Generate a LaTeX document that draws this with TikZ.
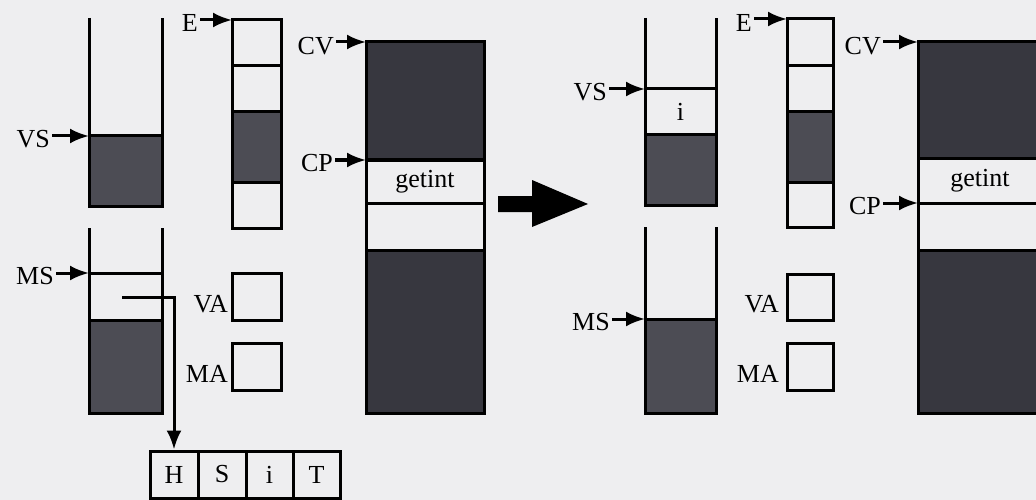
\documentclass[tikz,border=0pt]{standalone}
\usepackage{fontspec}
\setmainfont{Liberation Serif}
\usetikzlibrary{arrows.meta}
\definecolor{paper}{RGB}{238,238,240}
\definecolor{stip}{RGB}{76,76,84}
\definecolor{dstip}{RGB}{55,55,63}
\begin{document}
\begin{tikzpicture}[x=1pt,y=-1pt,
  wall/.style={line width=3pt},
  shade/.style={fill=stip},
  dshade/.style={fill=dstip},
  lbl/.style={font=\fontsize{26}{30}\selectfont, inner sep=0pt},
  ptr/.style={line width=3pt, shorten <=2pt, -{Latex[length=19pt,width=15pt]}},
  boxnode/.style={draw, line width=3pt, inner sep=0pt, font=\fontsize{26}{30}\selectfont},
]
\path[use as bounding box, fill=paper] (0,0) rectangle (1036,500);
\clip (0,0) rectangle (1036,500);

% ================= LEFT STATE =================
% VS stack
\fill[shade] (89,136) rectangle (162,206);
\draw[wall] (89,18) -- (89,206) -- (162,206) -- (162,18);
\draw[wall] (89,136) -- (162,136);
\node[lbl, anchor=east] (vsA) at (50,139) {VS};
\coordinate (vsAt) at (89,136);
\draw[ptr] (vsA.east |- vsAt) -- (vsAt);

% MS stack
\fill[shade] (89,320) rectangle (162,413);
\draw[wall] (89,228) -- (89,413) -- (162,413) -- (162,228);
\draw[wall] (89,273) -- (162,273) (89,320) -- (162,320);
\node[lbl, anchor=east] (msA) at (54,276) {MS};
\coordinate (msAt) at (89,273);
\draw[ptr] (msA.east |- msAt) -- (msAt);

% HSiT record
\node[boxnode, minimum width=48pt, minimum height=47pt] (cH) at (174,474.5) {H};
\node[boxnode, minimum width=48pt, minimum height=47pt] (cS) at (222,474.5) {S};
\node[boxnode, minimum width=47pt, minimum height=47pt] (ci) at (269.5,474.5) {i};
\node[boxnode, minimum width=47pt, minimum height=47pt] (cT) at (316.5,474.5) {T};
\coordinate (msAp) at (122,297);
\draw[line width=3pt, -{Latex[length=19pt,width=15pt]}] (msAp) -| (cH.north);

% E column
\fill[shade] (232,112) rectangle (281,182);
\draw[wall] (232,20) rectangle (281,228);
\draw[wall] (232,66) -- (281,66) (232,112) -- (281,112) (232,182) -- (281,182);
\node[lbl, anchor=east] (eA) at (198,23) {E};
\coordinate (eAt) at (232,20);
\draw[ptr] (eA.east |- eAt) -- (eAt);

% VA, MA
\node[boxnode, minimum width=49pt, minimum height=47pt] (vaA) at (256.5,296.5) {};
\node[lbl, anchor=base east] (vaAl) at (228,312) {VA};
\node[boxnode, minimum width=49pt, minimum height=47pt] (maA) at (256.5,366.5) {};
\node[lbl, anchor=base east] (maAl) at (228,382) {MA};

% code vector
\fill[dshade] (366,42) rectangle (484,160);
\fill[dshade] (366,250) rectangle (484,413);
\draw[wall] (366,42) rectangle (484,413);
\draw[wall] (366,160) -- (484,160) (366,203) -- (484,203) (366,250) -- (484,250);
\node[lbl] (gA) at (425,182) {getint};
\node[lbl, anchor=east] (cvA) at (334,46) {CV};
\coordinate (cvAt) at (366,42);
\draw[ptr] (cvA.east |- cvAt) -- (cvAt);
\node[lbl, anchor=east] (cpA) at (333,163) {CP};
\coordinate (cpAt) at (366,160);
\draw[ptr] (cpA.east |- cpAt) -- (cpAt);

% ================= TRANSITION ARROW =================
\fill[black] (498,196) -- (532,196) -- (532,180) -- (588,204) -- (532,227) -- (532,212) -- (498,212) -- cycle;

% ================= RIGHT STATE =================
% VS stack
\fill[shade] (645,135) rectangle (716,205);
\draw[wall] (645,18) -- (645,205) -- (716,205) -- (716,18);
\draw[wall] (645,89) -- (716,89) (645,135) -- (716,135);
\node[lbl] (iB) at (680.5,112) {i};
\node[lbl, anchor=east] (vsB) at (607,92) {VS};
\coordinate (vsBt) at (645,89);
\draw[ptr] (vsB.east |- vsBt) -- (vsBt);

% MS stack
\fill[shade] (645,319) rectangle (716,413);
\draw[wall] (645,227) -- (645,413) -- (716,413) -- (716,227);
\draw[wall] (645,319) -- (716,319);
\node[lbl, anchor=east] (msB) at (610,322) {MS};
\coordinate (msBt) at (645,319);
\draw[ptr] (msB.east |- msBt) -- (msBt);

% E column
\fill[shade] (787,112) rectangle (833,182);
\draw[wall] (787,19) rectangle (833,227);
\draw[wall] (787,66) -- (833,66) (787,112) -- (833,112) (787,182) -- (833,182);
\node[lbl, anchor=east] (eB) at (752,23) {E};
\coordinate (eBt) at (787,19);
\draw[ptr] (eB.east |- eBt) -- (eBt);

% VA, MA
\node[boxnode, minimum width=46pt, minimum height=46pt] (vaB) at (810,297) {};
\node[lbl, anchor=base east] (vaBl) at (779,312) {VA};
\node[boxnode, minimum width=46pt, minimum height=47pt] (maB) at (810,366.5) {};
\node[lbl, anchor=base east] (maBl) at (779,382) {MA};

% code vector
\fill[dshade] (918,42) rectangle (1045,159);
\fill[dshade] (918,250) rectangle (1045,413);
\draw[wall] (1045,42) -- (918,42) -- (918,413) -- (1045,413);
\draw[wall] (918,159) -- (1045,159) (918,203) -- (1045,203) (918,250) -- (1045,250);
\node[lbl] (gB) at (980,181) {getint};
\node[lbl, anchor=east] (cvB) at (881,46) {CV};
\coordinate (cvBt) at (918,42);
\draw[ptr] (cvB.east |- cvBt) -- (cvBt);
\node[lbl, anchor=east] (cpB) at (881,206) {CP};
\coordinate (cpBt) at (918,203);
\draw[ptr] (cpB.east |- cpBt) -- (cpBt);
\end{tikzpicture}
\end{document}
